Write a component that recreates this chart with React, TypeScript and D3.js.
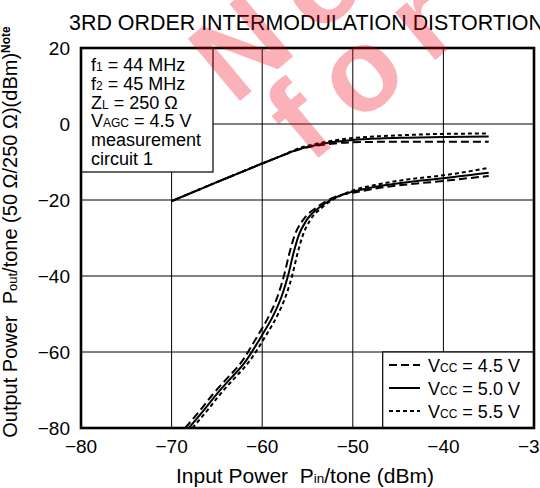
import { useEffect, useRef } from 'react'
import * as d3 from 'd3'

// values (input dBm, output dBm)
const xTicks = [-80, -70, -60, -50, -40, -30]
const yTicks = [20, 0, -20, -40, -60, -80]

const fundX = [-70, -65, -60, -58, -56.2, -54, -52, -50, -47, -44, -40, -35]
const fund50 = [-20.3, -15.3, -10.4, -8.5, -6.8, -5.5, -4.7, -4.2, -3.8, -3.6, -3.4, -3.3]
const fund45 = [-20.3, -15.3, -10.4, -8.5, -6.9, -5.7, -5.1, -4.8, -4.7, -4.7, -4.7, -4.7]
const fund55 = [-20.3, -15.3, -10.4, -8.5, -6.6, -5.2, -4.3, -3.7, -3.2, -2.9, -2.6, -2.5]

const imY = [-80, -75.5, -71, -67, -63, -55.5, -50.5, -45, -39.5, -34.5, -29.5, -25.3, -21.8, -18.9]
const im50X = [-68.1, -66.5, -65, -63.5, -62, -60, -58.8, -57.8, -57.1, -56.6, -56.0, -55.1, -53.6, -51.5]
const im45X = [-68.5, -66.9, -65.4, -63.9, -62.4, -60.45, -59.25, -58.25, -57.55, -57.05, -56.45, -55.5, -53.9, -51.6]
const im55X = [-67.7, -66.1, -64.6, -63.1, -61.6, -59.55, -58.35, -57.35, -56.65, -56.15, -55.55, -54.7, -53.3, -51.4]

const tailX = [-50, -47, -44, -40, -37, -35]
const tail50 = [-17.8, -16.3, -15.3, -14.3, -13.4, -12.8]
const tail45 = [-18.1, -16.8, -15.9, -15.0, -14.2, -13.7]
const tail55 = [-17.5, -15.8, -14.6, -13.5, -12.4, -11.5]

const conditions = ['f|1| = 44 MHz', 'f|2| = 45 MHz', 'Z|L| = 250 Ω', 'V|AGC| = 4.5 V', 'measurement', 'circuit 1']
const legendLabels = ['4.5', '5.0', '5.5']
const dashes = ['8,4', null, '4,3']

const FONT = '"Liberation Sans", Arial, Helvetica, sans-serif'

export default function App() {
  const ref = useRef<SVGSVGElement>(null)

  useEffect(() => {
    const svg = d3.select(ref.current)
    svg.selectAll('*').remove()

    const left = 81, right = 534, top = 48, bottom = 428
    const x = d3.scaleLinear().domain([-80, -30]).range([left, right])
    const y = d3.scaleLinear().domain([-80, 20]).range([bottom, top])

    svg.append('rect').attr('width', 540).attr('height', 488).attr('fill', '#fff')

    // title, condensed
    svg.append('text')
      .attr('x', 69).attr('y', 30)
      .attr('font-size', 22)
      .attr('textLength', 475)
      .attr('lengthAdjust', 'spacingAndGlyphs')
      .text('3RD ORDER INTERMODULATION DISTORTION')

    // grid
    svg.append('g')
      .selectAll('line')
      .data(xTicks.slice(1, -1))
      .enter().append('line')
      .attr('x1', d => x(d)).attr('x2', d => x(d))
      .attr('y1', top).attr('y2', bottom)
      .attr('stroke', '#000').attr('stroke-width', 1)
    svg.append('g')
      .selectAll('line')
      .data(yTicks.slice(1, -1))
      .enter().append('line')
      .attr('x1', left).attr('x2', right)
      .attr('y1', d => y(d)).attr('y2', d => y(d))
      .attr('stroke', '#000').attr('stroke-width', 1)

    // tick labels
    svg.append('g')
      .selectAll('text')
      .data(xTicks)
      .enter().append('text')
      .attr('x', d => x(d)).attr('y', 453)
      .attr('text-anchor', 'middle')
      .attr('font-size', 19)
      .text(d => d3.format('')(d).replace('-', '\u2212'))
    svg.append('g')
      .selectAll('text')
      .data(yTicks)
      .enter().append('text')
      .attr('x', 70).attr('y', d => y(d) + 7)
      .attr('text-anchor', 'end')
      .attr('font-size', 19)
      .text(d => d3.format('')(d).replace('-', '\u2212'))

    // conditions box
    svg.append('rect')
      .attr('x', left).attr('y', top).attr('width', 132).attr('height', 124)
      .attr('fill', '#fff').attr('stroke', '#000').attr('stroke-width', 1.2)
    conditions.forEach((c, i) => {
      const t = svg.append('text').attr('x', 91).attr('y', 71 + i * 18.8).attr('font-size', 18)
      c.split('|').forEach((part, j) => {
        t.append('tspan').attr('font-size', j % 2 ? 12 : 18).text(part)
      })
    })

    // curves
    const line = d3.line<[number, number]>()
      .x(d => x(d[0]))
      .y(d => y(d[1]))
      .curve(d3.curveMonotoneX)

    const zip = (xs: number[], ys: number[]) => xs.map((v, i) => [v, ys[i]] as [number, number])
    const series = [
      { d: zip(fundX, fund45), dash: dashes[0] },
      { d: zip(fundX, fund55), dash: dashes[2] },
      { d: zip(fundX, fund50), dash: dashes[1] },
      { d: zip(im45X, imY).concat(zip(tailX, tail45)), dash: dashes[0] },
      { d: zip(im55X, imY).concat(zip(tailX, tail55)), dash: dashes[2] },
      { d: zip(im50X, imY).concat(zip(tailX, tail50)), dash: dashes[1] },
    ]
    series.forEach(s => {
      svg.append('path')
        .datum(s.d)
        .attr('fill', 'none')
        .attr('stroke', '#000')
        .attr('stroke-width', 2)
        .attr('stroke-dasharray', s.dash)
        .attr('d', line)
    })

    // legend
    svg.append('rect')
      .attr('x', 382.7).attr('y', y(-60)).attr('width', right - 382.7).attr('height', bottom - y(-60))
      .attr('fill', '#fff').attr('stroke', '#000').attr('stroke-width', 1.2)
    legendLabels.forEach((v, i) => {
      const cy = 365 + i * 23
      svg.append('line')
        .attr('x1', 389).attr('x2', 420).attr('y1', cy).attr('y2', cy)
        .attr('stroke', '#000').attr('stroke-width', 2)
        .attr('stroke-dasharray', dashes[i])
      const t = svg.append('text').attr('x', 428).attr('y', cy + 6.5).attr('font-size', 18)
      t.append('tspan').text('V')
      t.append('tspan').attr('font-size', 12).text('CC')
      t.append('tspan').text(` = ${v} V`)
    })

    // frame
    svg.append('rect')
      .attr('x', left).attr('y', top).attr('width', right - left).attr('height', bottom - top)
      .attr('fill', 'none').attr('stroke', '#000').attr('stroke-width', 2.6)

    // axis titles
    const xt = svg.append('text')
      .attr('x', 305).attr('y', 483)
      .attr('text-anchor', 'middle')
      .attr('font-size', 21)
    xt.append('tspan').text('Input Power\u00a0\u00a0P')
    xt.append('tspan').attr('font-size', 13.5).text('in')
    xt.append('tspan').text('/tone (dBm)')

    const yt = svg.append('text')
      .attr('transform', 'translate(17,232) rotate(-90)')
      .attr('text-anchor', 'middle')
      .attr('font-size', 20)
    yt.append('tspan').text('Output Power\u00a0\u00a0P')
    yt.append('tspan').attr('font-size', 13).text('out')
    yt.append('tspan').text('/tone (50 Ω/250 Ω)(dBm)')
    yt.append('tspan').attr('font-size', 12).attr('font-weight', 'bold').attr('dy', -7).text('Note')

    // watermark stamp
    const wm = svg.append('g')
      .attr('fill', 'rgb(240,0,20)')
      .attr('opacity', 0.3)
      .attr('font-size', 118)
      .attr('font-weight', 'bold')
      .attr('letter-spacing', 22)
      .style('pointer-events', 'none')
    wm.append('text').attr('transform', 'translate(234,106) rotate(-40)').text('Not')
    wm.append('text').attr('transform', 'translate(310,165) rotate(-40)').text('for')
  }, [])

  return (
    <div style={{ position: 'fixed', left: 0, top: 0, width: 540, height: 488, overflow: 'hidden' }}>
      <svg ref={ref} width={540} height={488} style={{ display: 'block', fontFamily: FONT }} />
    </div>
  )
}
